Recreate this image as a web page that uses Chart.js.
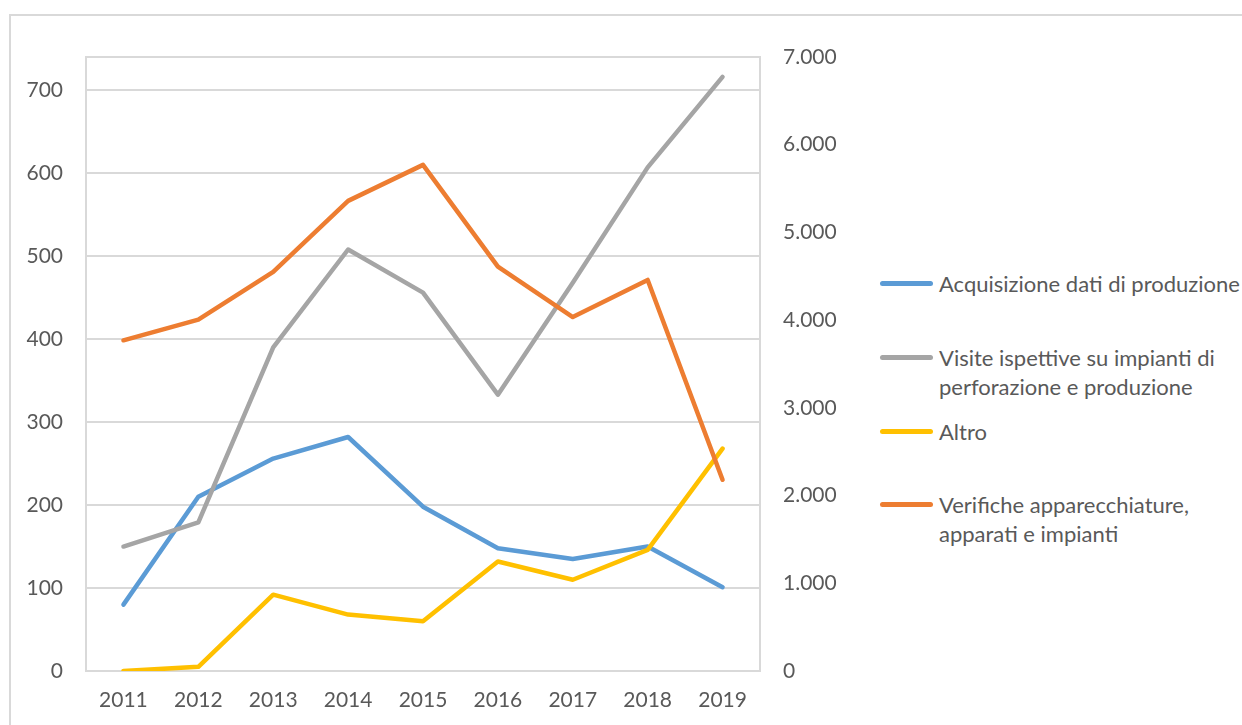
<!DOCTYPE html>
<html>
<head>
<meta charset="utf-8">
<script src="https://cdn.jsdelivr.net/npm/chart.js@4/dist/chart.umd.min.js"></script>
<style>
    html, body { margin: 0; padding: 0; background: #fff; overflow: hidden; }
    #wrap { position: relative; width: 1242px; height: 725px; }
    #frame { position: absolute; left: 9px; top: 14px; width: 1300px; height: 800px; border: 2px solid #D9D9D9; box-sizing: border-box; }
    #chart { position: absolute; left: 0; top: 0; }
    .leg { position: absolute; left: 880px; font-family: Lato, sans-serif; font-size: 22px; line-height: 29px; color: #595959; white-space: nowrap; }
    .leg .mk { position: absolute; left: 0; top: 12px; width: 53px; height: 5px; border-radius: 3px; }
    .leg .tx { position: absolute; left: 59px; top: 0; }
</style>
</head>
<body>
<div id="wrap">
    <div id="frame"></div>
    <canvas id="chart" width="860" height="725"></canvas>
    <div id="legend"></div>
</div>
<script>
const years = ['2011', '2012', '2013', '2014', '2015', '2016', '2017', '2018', '2019'];
const acquisizione = [80, 210, 256, 282, 198, 148, 135, 150, 101];
const visite = [150, 179, 390, 508, 456, 333, 468, 607, 716];
const altro = [0, 5, 92, 68, 60, 132, 110, 146, 268];
const verifiche = [3770, 4005, 4550, 5360, 5770, 4610, 4035, 4458, 2180];
const leftTicksMax = 740;
const rightTicksMax = 7000;

const seriesNames = [
    'Acquisizione dati di produzione',
    'Visite ispettive su impianti di<br>perforazione e produzione',
    'Altro',
    'Verifiche apparecchiature,<br>apparati e impianti'
];
const seriesColors = ['#5B9BD5', '#A5A5A5', '#FFC000', '#ED7D31'];

// legend (HTML so the text can wrap like the original)
const legendTops = [269, 343, 417, 490];
document.getElementById('legend').innerHTML = seriesNames.map(function (n, i) {
    return '<div class="leg" style="top:' + legendTops[i] + 'px"><div class="mk" style="background:' +
        seriesColors[i] + '"></div><div class="tx">' + n + '</div></div>';
}).join('');

const fmtIt = v => String(v).replace(/\B(?=(\d{3})+(?!\d))/g, '.');

// box around the plot area
const plotBox = {
    id: 'plotBox',
    beforeDatasetsDraw(chart) {
        const a = chart.chartArea, ctx = chart.ctx;
        ctx.save();
        ctx.strokeStyle = '#D9D9D9';
        ctx.lineWidth = 2;
        ctx.strokeRect(a.left, a.top, a.right - a.left, a.bottom - a.top);
        ctx.restore();
    }
};

const tickFont = {family: 'Lato, sans-serif', size: 21};

function line(label, data, color, axis, order) {
    return {
        label: label,
        data: data,
        borderColor: color,
        backgroundColor: color,
        borderWidth: 4.5,
        borderCapStyle: 'round',
        borderJoinStyle: 'round',
        pointRadius: 0,
        tension: 0,
        fill: false,
        yAxisID: axis,
        order: order
    };
}

new Chart(document.getElementById('chart'), {
    type: 'line',
    data: {
        labels: years,
        datasets: [
            line('Acquisizione dati di produzione', acquisizione, seriesColors[0], 'y', 4),
            line('Visite ispettive su impianti di perforazione e produzione', visite, seriesColors[1], 'y', 3),
            line('Altro', altro, seriesColors[2], 'y', 2),
            line('Verifiche apparecchiature, apparati e impianti', verifiche, seriesColors[3], 'y2', 1)
        ]
    },
    options: {
        responsive: false,
        animation: false,
        layout: {padding: {top: 57, left: 0, right: 0, bottom: 0}},
        plugins: {legend: {display: false}, tooltip: {enabled: false}},
        scales: {
            x: {
                offset: true,
                grid: {display: false, drawTicks: false},
                border: {display: false},
                ticks: {color: '#595959', font: tickFont, padding: 17, maxRotation: 0},
                afterFit(s) { s.height = 54; }
            },
            y: {
                position: 'left',
                min: 0,
                max: leftTicksMax,
                grid: {color: '#D9D9D9', lineWidth: 2, drawTicks: false},
                border: {display: false},
                ticks: {stepSize: 100, color: '#595959', font: tickFont, padding: 23},
                afterBuildTicks(s) { s.ticks = s.ticks.filter(t => t.value % 100 === 0); },
                afterFit(s) { s.width = 86; }
            },
            y2: {
                position: 'right',
                min: 0,
                max: rightTicksMax,
                grid: {display: false, drawTicks: false},
                border: {display: false},
                ticks: {stepSize: 1000, color: '#595959', font: tickFont, padding: 23, callback: v => fmtIt(v)},
                afterFit(s) { s.width = 100; }
            }
        }
    },
    plugins: [plotBox]
});
</script>
</body>
</html>
